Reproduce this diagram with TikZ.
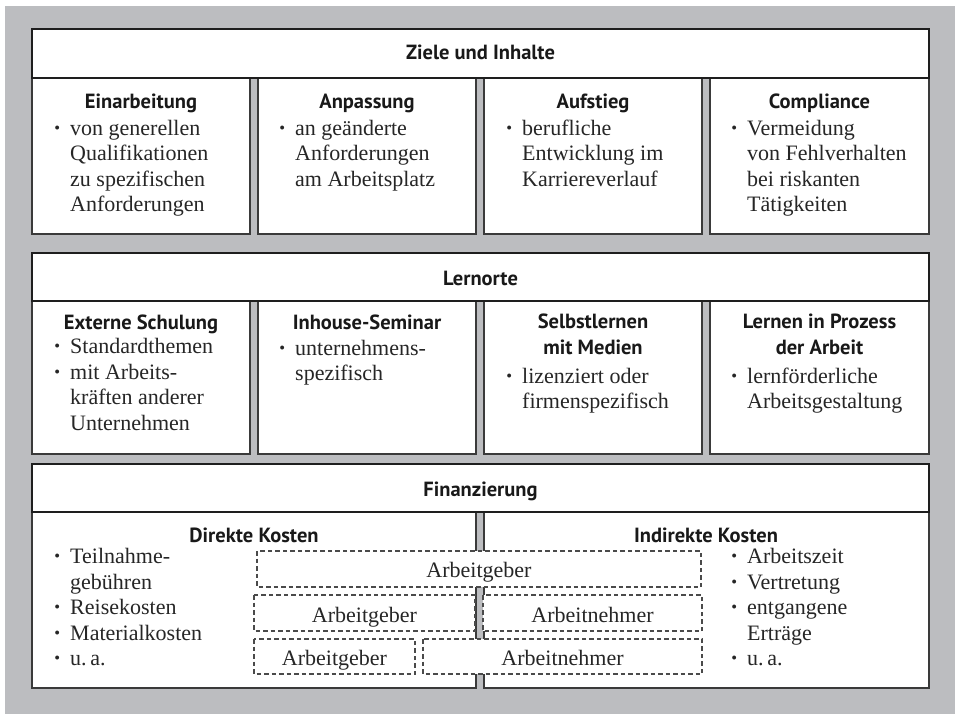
\documentclass[tikz,border=0pt]{standalone}
\usepackage{fontspec}
\usepackage{graphicx}
\setmainfont{Liberation Serif}
\newfontfamily\hfont{PT Sans}
\definecolor{bggray}{HTML}{BCBDC0}
\definecolor{boxline}{HTML}{3A3A3A}
\definecolor{headline}{HTML}{1E1E1E}
\definecolor{dashcol}{HTML}{4A4A4A}
\newcommand\bul{\makebox[0pt][r]{\raisebox{0.07em}{\scalebox{0.75}{\textbullet}}\hspace{10pt}}}
\tikzset{
  subbox/.style={draw=boxline, line width=1.3pt, fill=white},
  headbox/.style={draw=headline, line width=2.4pt, fill=white},
  dbox/.style={draw=dashcol, line width=1.1pt, dash pattern=on 4.5pt off 3pt, fill=white},
  ttl/.style={font=\hfont\bfseries\fontsize{20.5}{26}\selectfont, inner sep=0pt, anchor=base, align=center, text=black!90},
  txt/.style={font=\fontsize{22}{25.5}\selectfont, inner sep=0pt, anchor=base west, align=left, text=black!85},
  dtxt/.style={font=\fontsize{22}{25.5}\selectfont, inner sep=0pt, anchor=base, text=black!85}
}
\begin{document}
\begin{tikzpicture}[x=1pt,y=-1pt]
\useasboundingbox (0,0) rectangle (955,714);
\fill[bggray] (5,6) rectangle (955,714);

% ---------- Row 1 ----------
\draw[subbox] (32,78) rectangle (250,234);
\draw[subbox] (258,78) rectangle (476,234);
\draw[subbox] (484,78) rectangle (702,234);
\draw[subbox] (710,78) rectangle (929,234);
\draw[headbox] (32,29) rectangle (929,78);
\node[ttl] (h1) at (480.5,60) {Ziele und Inhalte};

% (multi-line nodes are anchored at the baseline of their last line)
\node[ttl] (t11) at (141,109) {Einarbeitung};
\node[txt] (l11) at (70,211.5) {\bul von generellen\\Qualifikationen\\zu spezifischen\\Anforderungen};
\node[ttl] (t12) at (367,109) {Anpassung};
\node[txt] (l12) at (295,186) {\bul an geänderte\\Anforderungen\\am Arbeitsplatz};
\node[ttl] (t13) at (593,109) {Aufstieg};
\node[txt] (l13) at (522,186) {\bul berufliche\\Entwicklung im\\Karriereverlauf};
\node[ttl] (t14) at (819.5,109) {Compliance};
\node[txt] (l14) at (747,211.5) {\bul Vermeidung\\von Fehlverhalten\\bei riskanten\\Tätigkeiten};

% ---------- Row 2 ----------
\draw[subbox] (32,301) rectangle (250,454);
\draw[subbox] (258,301) rectangle (476,454);
\draw[subbox] (484,301) rectangle (702,454);
\draw[subbox] (710,301) rectangle (929,454);
\draw[headbox] (32,253) rectangle (929,301);
\node[ttl] (h2) at (480.5,285) {Lernorte};

\node[ttl] (t21) at (141,329) {Externe Schulung};
\node[txt] (l21) at (70,430) {\bul Standardthemen\\\bul mit Arbeits-\\kräften anderer\\Unternehmen};
\node[ttl] (t22) at (367,329) {Inhouse-Seminar};
\node[txt] (l22) at (295,380.5) {\bul unternehmens-\\spezifisch};
\node[ttl] (t23) at (593,354) {Selbstlernen\\mit Medien};
\node[txt] (l23) at (522,408.5) {\bul lizenziert oder\\firmenspezifisch};
\node[ttl] (t24) at (819.5,354) {Lernen in Prozess\\der Arbeit};
\node[txt] (l24) at (747,408.5) {\bul lernförderliche\\Arbeitsgestaltung};

% ---------- Row 3 ----------
\draw[subbox] (32,512) rectangle (476,688);
\draw[subbox] (484,512) rectangle (929,688);
\draw[headbox] (32,464) rectangle (929,512);
\node[ttl] (h3) at (480.5,496) {Finanzierung};

\node[ttl] (t31) at (254,542) {Direkte Kosten};
\node[ttl] (t32) at (706,542) {Indirekte Kosten};
\node[txt] (l31) at (70,665.5) {\bul Teilnahme-\\gebühren\\\bul Reisekosten\\\bul Materialkosten\\\bul u.\,a.};
\node[txt] (l32) at (747,665.5) {\bul Arbeitszeit\\\bul Vertretung\\\bul entgangene\\Erträge\\\bul u.\,a.};

\draw[dbox] (257,551) rectangle (701,587);
\draw[dbox] (254,595) rectangle (475,631);
\draw[dbox] (483,595) rectangle (702,631);
\draw[dbox] (254,639) rectangle (415,674);
\draw[dbox] (423,639) rectangle (702,674);
\node[dtxt] (d1) at (479,577) {Arbeitgeber};
\node[dtxt] (d2) at (364.5,622) {Arbeitgeber};
\node[dtxt] (d3) at (592.5,622) {Arbeitnehmer};
\node[dtxt] (d4) at (334.5,665) {Arbeitgeber};
\node[dtxt] (d5) at (562.5,665) {Arbeitnehmer};
\end{tikzpicture}
\end{document}
